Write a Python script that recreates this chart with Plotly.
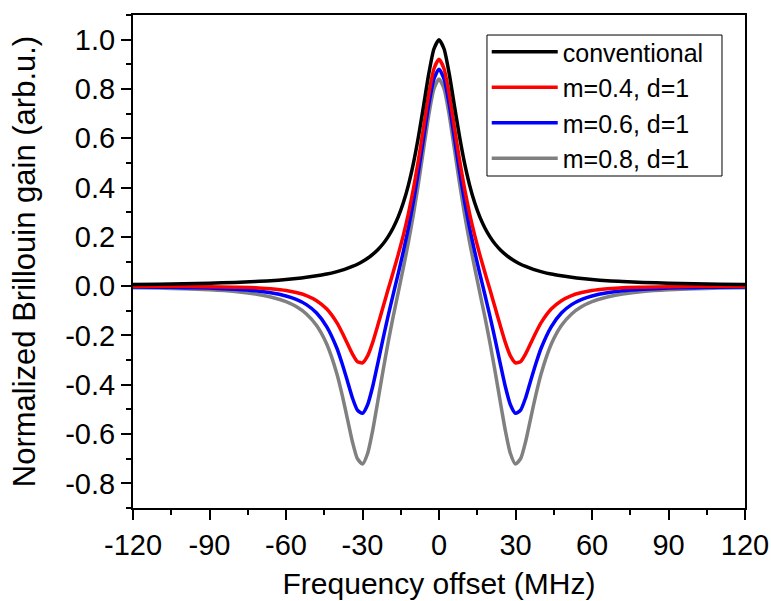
import plotly.graph_objects as go

# Frequency offset (MHz)
freq = [-120, -110, -100, -90, -80, -72, -66, -60, -56, -52, -48, -44, -40, -38, -36, -34, -32, -30,
        -28, -26, -24, -22, -20, -18, -16, -14, -12, -10, -8, -6, -4, -2,
        0, 2, 4, 6, 8, 10, 12, 14, 16, 18, 20, 22, 24, 26, 28,
        30, 32, 34, 36, 38, 40, 44, 48, 52, 56, 60, 66, 72, 80, 90, 100, 110, 120]

conventional = [0.007, 0.008, 0.010, 0.012, 0.015, 0.019, 0.022, 0.027, 0.031, 0.036, 0.042, 0.049, 0.059,
                0.065, 0.072, 0.080, 0.089, 0.100, 0.113, 0.129, 0.148, 0.171, 0.200, 0.236, 0.281, 0.338,
                0.410, 0.500, 0.610, 0.735, 0.862, 0.962,
                1.000,
                0.962, 0.862, 0.735, 0.610, 0.500, 0.410, 0.338, 0.281, 0.236, 0.200, 0.171, 0.148, 0.129,
                0.113, 0.100, 0.089, 0.080, 0.072, 0.065, 0.059, 0.049, 0.042, 0.036, 0.031, 0.027, 0.022,
                0.019, 0.015, 0.012, 0.010, 0.008, 0.007]

m04 = [0.000, 0.000, 0.000, -0.002, -0.004, -0.006, -0.011, -0.018, -0.026, -0.038, -0.059, -0.093, -0.149,
       -0.188, -0.231, -0.274, -0.306, -0.311, -0.283, -0.228, -0.159, -0.087, -0.015, 0.055, 0.128, 0.206,
       0.294, 0.397, 0.516, 0.647, 0.779, 0.881,
       0.920,
       0.881, 0.779, 0.647, 0.516, 0.397, 0.294, 0.206, 0.128, 0.055, -0.015, -0.087, -0.159, -0.228,
       -0.283, -0.311, -0.306, -0.274, -0.231, -0.188, -0.149, -0.093, -0.059, -0.038, -0.026, -0.018,
       -0.011, -0.006, -0.004, -0.002, 0.000, 0.000, 0.000]

m06 = [-0.003, -0.004, -0.006, -0.008, -0.013, -0.019, -0.027, -0.040, -0.054, -0.075, -0.109, -0.165, -0.253,
       -0.314, -0.382, -0.452, -0.503, -0.516, -0.481, -0.407, -0.313, -0.216, -0.123, -0.035, 0.051, 0.140,
       0.236, 0.345, 0.469, 0.603, 0.737, 0.840,
       0.880,
       0.840, 0.737, 0.603, 0.469, 0.345, 0.236, 0.140, 0.051, -0.035, -0.123, -0.216, -0.313, -0.407,
       -0.481, -0.516, -0.503, -0.452, -0.382, -0.314, -0.253, -0.165, -0.109, -0.075, -0.054, -0.040,
       -0.027, -0.019, -0.013, -0.008, -0.006, -0.004, -0.003]

m08 = [-0.006, -0.008, -0.011, -0.015, -0.022, -0.032, -0.044, -0.063, -0.083, -0.113, -0.160, -0.236, -0.357,
       -0.440, -0.534, -0.629, -0.700, -0.722, -0.679, -0.585, -0.467, -0.346, -0.231, -0.125, -0.026, 0.074,
       0.178, 0.293, 0.421, 0.559, 0.695, 0.800,
       0.840,
       0.800, 0.695, 0.559, 0.421, 0.293, 0.178, 0.074, -0.026, -0.125, -0.231, -0.346, -0.467, -0.585,
       -0.679, -0.722, -0.700, -0.629, -0.534, -0.440, -0.357, -0.236, -0.160, -0.113, -0.083, -0.063,
       -0.044, -0.032, -0.022, -0.015, -0.011, -0.008, -0.006]

series = [
    ("conventional", conventional, "#000000"),
    ("m=0.4, d=1", m04, "#ff0000"),
    ("m=0.6, d=1", m06, "#0000ff"),
    ("m=0.8, d=1", m08, "#808080"),
]

x_ticks = [-120, -90, -60, -30, 0, 30, 60, 90, 120]
y_ticks = [-0.8, -0.6, -0.4, -0.2, 0.0, 0.2, 0.4, 0.6, 0.8, 1.0]

FONT = "Arial, 'Liberation Sans', sans-serif"

fig = go.Figure()
# draw in reverse so black is on top
for name, vals, color in reversed(series):
    fig.add_trace(go.Scatter(x=freq, y=vals, mode="lines", name=name,
                             line=dict(color=color, width=3.5, shape="spline", smoothing=0.6)))

axis_common = dict(showgrid=False, zeroline=False, tickcolor="black", tickwidth=2,
                   tickfont=dict(size=29), automargin=False)
line_style = dict(linecolor="black", linewidth=2)

fig.update_layout(
    width=771, height=601,
    margin=dict(l=133, r=26, t=15, b=93),
    paper_bgcolor="white", plot_bgcolor="white",
    font=dict(family=FONT, size=26, color="black"),
    legend=dict(x=0.578, y=0.9716, xanchor="left", yanchor="top",
                borderwidth=0, bgcolor="rgba(0,0,0,0)",
                traceorder="reversed", font=dict(size=25), itemwidth=66,
                tracegroupgap=0),
    shapes=[dict(type="rect", xref="paper", yref="paper",
                 x0=0.5784, x1=0.9624, y0=0.6734, y1=0.9594,
                 line=dict(color="black", width=1), fillcolor="rgba(0,0,0,0)", layer="above")],
    xaxis=dict(range=[-120, 120], tickmode="array", tickvals=x_ticks,
               ticktext=[str(v) for v in x_ticks], ticks="outside", ticklen=10,
               showline=True, mirror=True,
               minor=dict(tickmode="linear", tick0=-120, dtick=15, ticks="outside",
                          ticklen=5, tickwidth=2, tickcolor="black"),
               title=dict(text="Frequency offset (MHz)", standoff=13, font=dict(size=30)),
               **axis_common, **line_style),
    yaxis=dict(range=[-0.9, 1.1], tickmode="array", tickvals=y_ticks,
               ticktext=[f"{v:.1f}" for v in y_ticks], ticks="outside", ticklen=10,
               showline=True, mirror=True,
               minor=dict(tickmode="linear", tick0=-0.9, dtick=0.1, ticks="outside",
                          ticklen=5, tickwidth=2, tickcolor="black"),
               title=dict(text="Normalized Brillouin gain (arb.u.)", standoff=20, font=dict(size=31)),
               **axis_common, **line_style),
    xaxis2=dict(overlaying="x", side="top", range=[-120, 120], tickmode="array",
                tickvals=x_ticks, showticklabels=False, ticks="inside", ticklen=10,
                minor=dict(tickmode="linear", tick0=-120, dtick=15, ticks="inside",
                           ticklen=5, tickwidth=2, tickcolor="black"),
                showline=False, **axis_common),
    yaxis2=dict(overlaying="y", side="right", range=[-0.9, 1.1], tickmode="array",
                tickvals=y_ticks, showticklabels=False, ticks="inside", ticklen=10,
                minor=dict(tickmode="linear", tick0=-0.9, dtick=0.1, ticks="inside",
                           ticklen=5, tickwidth=2, tickcolor="black"),
                showline=False, **axis_common),
)

fig.write_html("out.html")
